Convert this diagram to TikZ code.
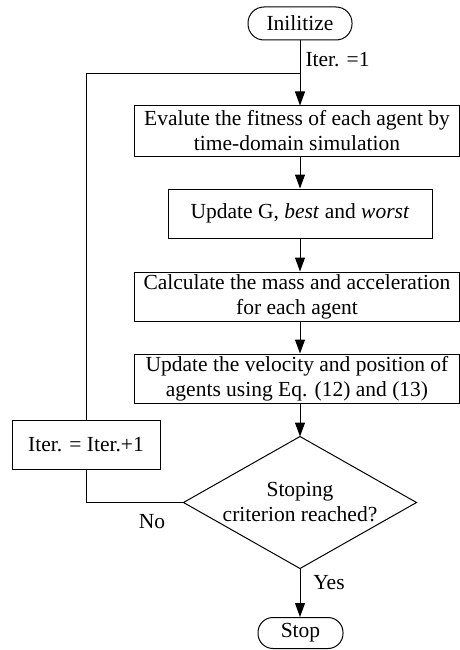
\documentclass[tikz,border=0pt]{standalone}
\usepackage{fontspec}
\setmainfont{Liberation Serif}
\usetikzlibrary{arrows.meta}
\begin{document}
\begin{tikzpicture}[x=1pt,y=-1pt,
  every node/.style={font=\fontsize{21.5}{25}\selectfont},
  line width=1pt,
  procbox/.style={draw, rectangle, align=center, inner sep=0pt},
  termbox/.style={draw, rectangle, rounded corners=16pt, inner sep=0pt},
  arr/.style={-{Triangle[length=14pt,width=10pt]}},
  lbl/.style={inner sep=0pt}]
\useasboundingbox (0,0) rectangle (460,650);

% terminals
\node[termbox, minimum width=104pt, minimum height=33pt] (init) at (300,23.5) {Inilitize};
\node[termbox, minimum width=85pt, minimum height=31pt, rounded corners=15pt] (stop) at (300.5,633) {Stop};

% process steps
\node[procbox, minimum width=325pt, minimum height=50pt] (eval) at (297,131)
  {Evalute the fitness of each agent by\\time-domain simulation};
\node[procbox, minimum width=264pt, minimum height=49pt] (upd) at (300,213.5)
  {Update G, \textit{best} and \textit{worst}};
\node[procbox, minimum width=325pt, minimum height=49pt] (mass) at (297,296.5)
  {Calculate the mass and acceleration\\for each agent};
\node[procbox, minimum width=325pt, minimum height=49pt] (vel) at (297,378.5)
  {Update the velocity and position of\\agents using Eq. (12) and (13)};
\node[procbox, minimum width=148pt, minimum height=49pt] (iter) at (86,444.5)
  {Iter. = Iter.+1};

% decision
\node[minimum width=232pt, minimum height=131pt, inner sep=0pt, align=center] (dia) at (300,502.5)
  {Stoping\\criterion reached?};
\draw (dia.west) -- (dia.north) -- (dia.east) -- (dia.south) -- cycle;

% junction of the loop with the main line
\coordinate (join) at (300,73.5);

% main flow
\draw[arr] (init.south) -- (init.south |- eval.north);
\draw[arr] (eval.south -| join) -- (upd.north);
\draw[arr] (upd.south) -- (upd.south |- mass.north);
\draw[arr] (mass.south -| join) -- (join |- vel.north);
\draw[arr] (vel.south -| join) -- (dia.north);
\draw[arr] (dia.south) -- (stop.north -| dia.south);

% loop back
\draw (dia.west) -| (iter.south);
\draw (iter.north) |- (join);

% labels
\node[lbl, anchor=west] (l1) at (305,60) {Iter. =1};
\node[lbl] (lno) at (152,522) {No};
\node[lbl] (lyes) at (329,583) {Yes};
\end{tikzpicture}
\end{document}
